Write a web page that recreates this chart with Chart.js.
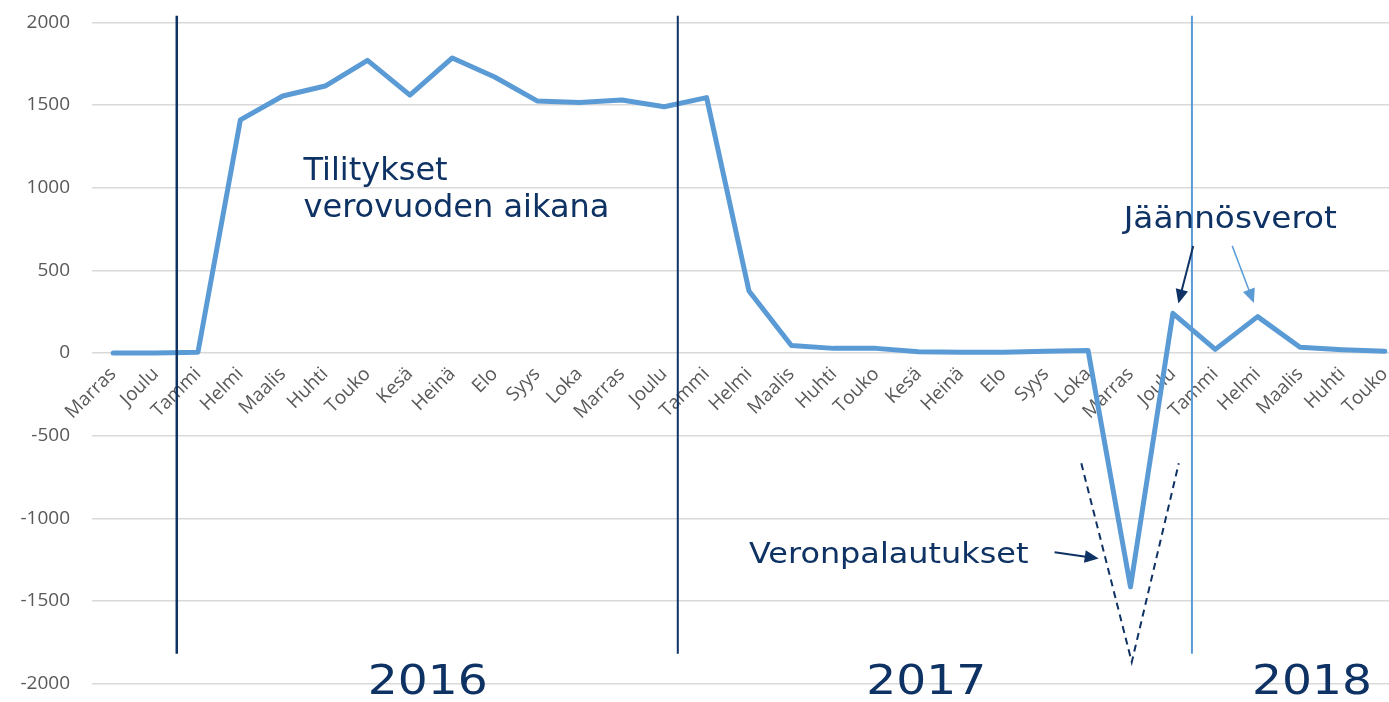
<!DOCTYPE html>
<html>
<head>
<meta charset="utf-8">
<script src="https://cdn.jsdelivr.net/npm/chart.js@4"></script>
<style>
html, body { margin: 0; padding: 0; background: #fff; overflow: hidden; width: 1389px; height: 702px; }
#wrap { width: 1406px; height: 728px; margin-top: -11px; }
</style>
</head>
<body>
<div id="wrap"><canvas id="canvas" width="1406" height="728"></canvas></div>
<script>
// DATA
var months = ['Marras','Joulu','Tammi','Helmi','Maalis','Huhti','Touko','Kesä','Heinä','Elo','Syys','Loka',
              'Marras','Joulu','Tammi','Helmi','Maalis','Huhti','Touko','Kesä','Heinä','Elo','Syys','Loka',
              'Marras','Joulu','Tammi','Helmi','Maalis','Huhti','Touko'];
var tilitykset = [0, 0, 5, 1410, 1555, 1615, 1770, 1560, 1785, 1670, 1525, 1515,
                  1530, 1490, 1545, 375, 45, 28, 28, 8, 5, 5, 10, 15,
                  -1415, 240, 22, 220, 35, 20, 10];
var yearLabels = ['2016', '2017', '2018'];
var noteTexts = ['Tilitykset', 'verovuoden aikana', 'Veronpalautukset', 'Jäännösverot'];

var navy = '#0e3263';
var blue = '#5b9bd5';

function arrow(ctx, x1, y1, x2, y2, color, w, head) {
  var a = Math.atan2(y2 - y1, x2 - x1);
  ctx.save();
  ctx.strokeStyle = color; ctx.fillStyle = color; ctx.lineWidth = w;
  ctx.beginPath();
  ctx.moveTo(x1, y1);
  ctx.lineTo(x2 - Math.cos(a) * head * 0.8, y2 - Math.sin(a) * head * 0.8);
  ctx.stroke();
  ctx.beginPath();
  ctx.moveTo(x2, y2);
  ctx.lineTo(x2 - head * Math.cos(a) + head * 0.45 * Math.sin(a), y2 - head * Math.sin(a) - head * 0.45 * Math.cos(a));
  ctx.lineTo(x2 - head * Math.cos(a) - head * 0.45 * Math.sin(a), y2 - head * Math.sin(a) + head * 0.45 * Math.cos(a));
  ctx.closePath();
  ctx.fill();
  ctx.restore();
}

// text with a horizontal stretch (the source text is a bit wide)
function text(ctx, str, x, y, size, sx, align) {
  ctx.save();
  ctx.translate(x, y);
  ctx.scale(sx, 1);
  ctx.font = size + 'px "DejaVu Sans"';
  ctx.textAlign = align;
  ctx.textBaseline = 'alphabetic';
  ctx.fillStyle = navy;
  ctx.fillText(str, 0, 0);
  ctx.restore();
}

var notesPlugin = {
  id: 'notes',
  afterDraw: function(chart) {
    var ctx = chart.ctx;
    var xs = chart.scales.x, ys = chart.scales.y;
    var X = function(v) { return xs.getPixelForValue(v); };
    var Y = function(v) { return ys.getPixelForValue(v); };

    // vertical year separators
    ctx.save();
    ctx.strokeStyle = navy; ctx.lineWidth = 2.5;
    ctx.beginPath(); ctx.moveTo(X(1.5), Y(2040)); ctx.lineTo(X(1.5), Y(-1820)); ctx.stroke();
    ctx.lineWidth = 2;
    ctx.beginPath(); ctx.moveTo(X(13.32), Y(2040)); ctx.lineTo(X(13.32), Y(-1820)); ctx.stroke();
    ctx.strokeStyle = blue; ctx.lineWidth = 2;
    ctx.beginPath(); ctx.moveTo(X(25.45), Y(2040)); ctx.lineTo(X(25.45), Y(-1820)); ctx.stroke();

    // dashed V
    ctx.strokeStyle = navy; ctx.lineWidth = 2; ctx.setLineDash([7, 5]);
    ctx.beginPath();
    ctx.moveTo(X(22.84), Y(-667)); ctx.lineTo(X(24.03), Y(-1870)); ctx.lineTo(X(25.14), Y(-667));
    ctx.stroke();
    ctx.setLineDash([]);
    ctx.restore();

    // arrows
    arrow(ctx, X(22.21), Y(-1205), X(23.25), Y(-1243), navy, 2, 14);
    arrow(ctx, X(25.48), Y(648), X(25.13), Y(300), navy, 2, 14);
    arrow(ctx, X(26.40), Y(648), X(26.91), Y(303), blue, 1.5, 14);

    // texts
    text(ctx, noteTexts[0], X(4.49), Y(1047), 32, 1, 'left');
    text(ctx, noteTexts[1], X(4.49), Y(823), 32, 1, 'left');
    text(ctx, noteTexts[2], X(15.0), Y(-1271), 29, 1.1, 'left');
    text(ctx, noteTexts[3], X(23.84), Y(756), 30, 1.09, 'left');
    text(ctx, yearLabels[0], X(7.42), Y(-2064), 41, 1.15, 'center');
    text(ctx, yearLabels[1], X(19.18), Y(-2064), 41, 1.15, 'center');
    text(ctx, yearLabels[2], X(28.28), Y(-2064), 41, 1.15, 'center');
  }
};

var ctx = document.getElementById('canvas').getContext('2d');
var chart = new Chart(ctx, {
  type: 'line',
  data: {
    labels: months,
    datasets: [{
      label: 'Tilitykset',
      data: tilitykset,
      borderColor: blue,
      borderWidth: 5,
      pointRadius: 0,
      tension: 0,
      fill: false,
      borderJoinStyle: 'round',
      borderCapStyle: 'round'
    }]
  },
  options: {
    responsive: false,
    animation: false,
    layout: { padding: { top: 4, bottom: 0, left: 0, right: 0 } },
    plugins: { legend: { display: false }, tooltip: { enabled: false } },
    scales: {
      x: {
        position: { y: 0 },
        offset: true,
        grid: { display: false },
        border: { display: false },
        ticks: {
          autoSkip: false,
          minRotation: 45, maxRotation: 45,
          color: '#595959',
          padding: 2,
          font: { family: '"Open Sans"', size: 19 }
        }
      },
      y: {
        min: -2000, max: 2000,
        afterFit: function(s) { s.width = 92; },
        grid: { color: '#d9d9d9', lineWidth: 1.5, drawTicks: false },
        border: { display: false },
        ticks: {
          stepSize: 500,
          color: '#595959',
          padding: 22,
          font: { family: '"Open Sans"', size: 19 },
          callback: function(v) { return String(v); }
        }
      }
    }
  },
  plugins: [notesPlugin]
});
</script>
</body>
</html>
